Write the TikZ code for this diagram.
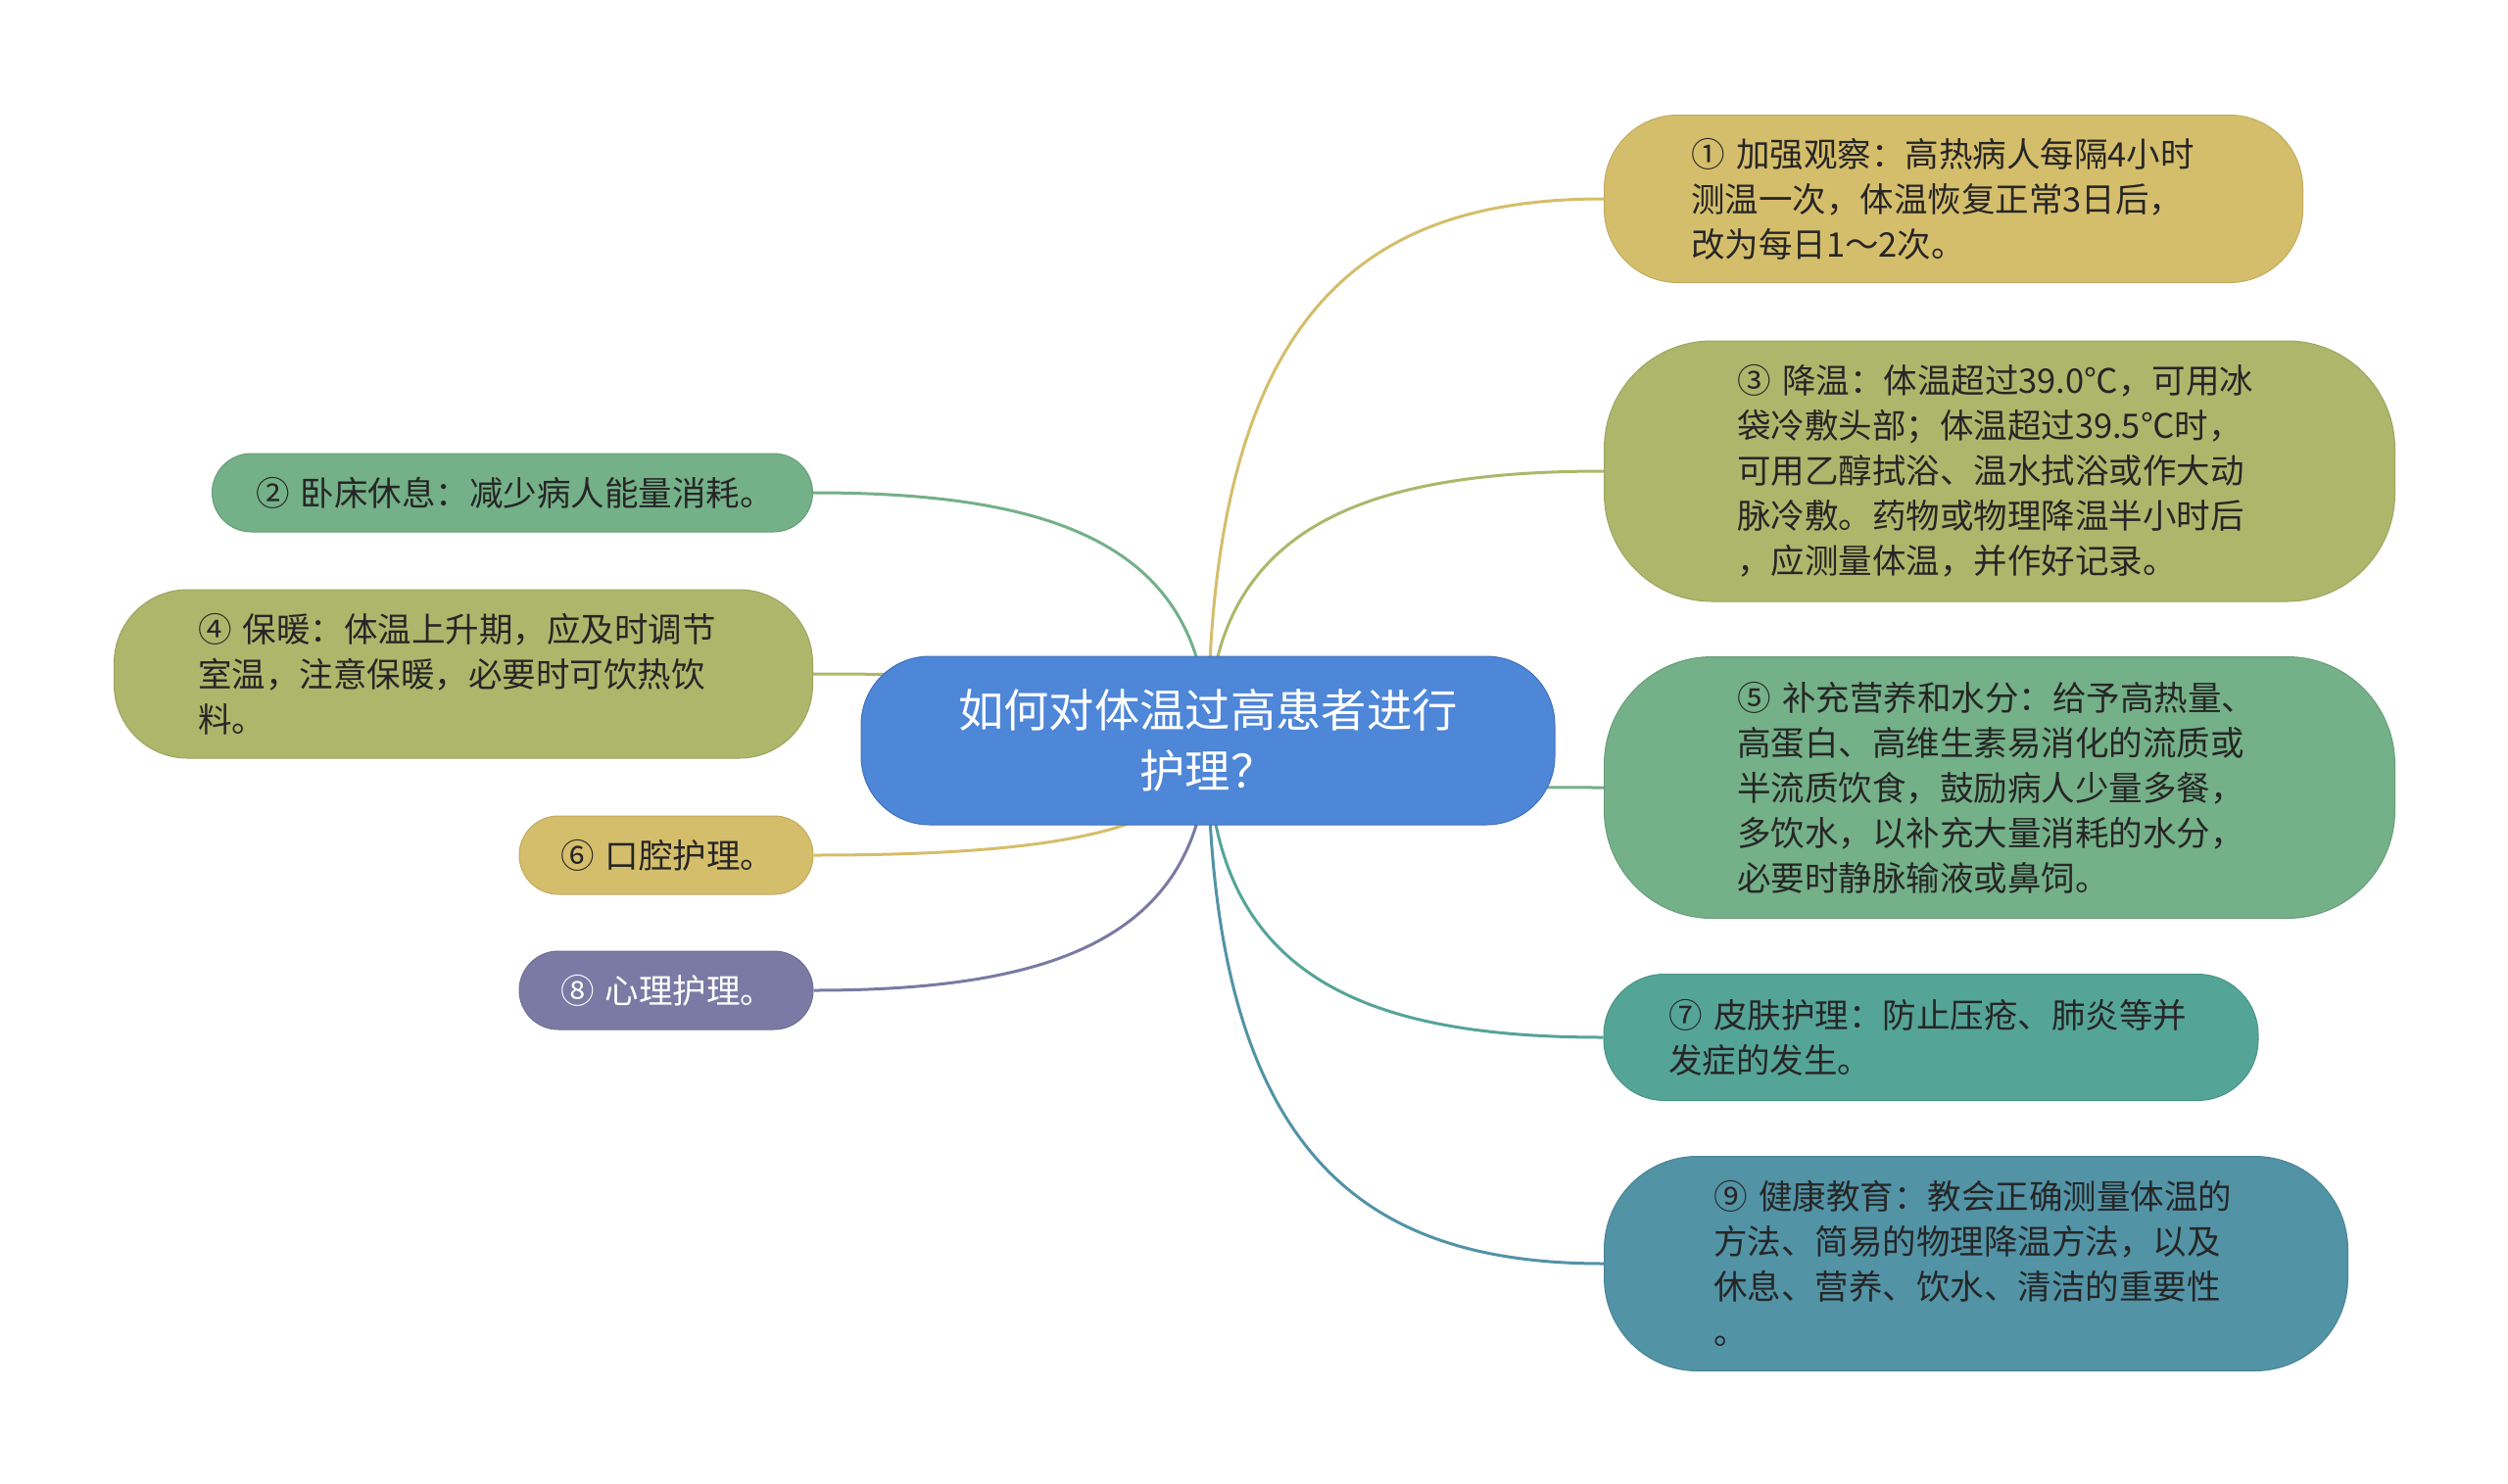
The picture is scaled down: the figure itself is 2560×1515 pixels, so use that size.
\documentclass[tikz,border=0pt]{standalone}
\usepackage{fontspec}
\setmainfont{Noto Sans CJK SC}
\usetikzlibrary{calc,backgrounds}
\definecolor{cgold}{HTML}{D5BE6B}
\definecolor{colive}{HTML}{ADB76B}
\definecolor{cgreen}{HTML}{74B088}
\definecolor{cteal}{HTML}{55A498}
\definecolor{cblueteal}{HTML}{5293A6}
\definecolor{cpurple}{HTML}{7A7AA4}
\definecolor{cblue}{HTML}{4E86D8}
\definecolor{textdark}{HTML}{262626}
\newcommand\linkto[2]{\draw[link,#1] (root.center) .. controls ($(root.center)!0.8!(root.center|-#2)$) and ($(root.center|-#2)!0.4!(#2)$) .. (#2);}
\begin{document}
\begin{tikzpicture}[x=1pt,y=-1pt,
  box/.style={rounded corners=#1, inner sep=0pt, align=left, text=textdark,
    font=\fontsize{34.5}{46}\selectfont, line width=1pt},
  link/.style={line width=3pt},
  ]
\useasboundingbox (0,0) rectangle (2560,1515);

\node[box=70, fill=cblue, draw=cblue!85!black, text=white, align=center,
  font=\fontsize{46.3}{62}\selectfont, minimum width=708, minimum height=172] (root) at (1233,756)
  {如何对体温过高患者进行\\护理？};

\node[box=75, fill=cgold, draw=cgold!90!black, text width=536, minimum width=713, minimum height=171] (b1) at (1994,203)
  {①~加强观察：高热病人每隔4小时\\测温一次，体温恢复正常3日后，\\改为每日1～2次。};
\node[box=110, fill=colive, draw=colive!90!black, text width=536, minimum width=807, minimum height=266] (b3) at (2041,481)
  {③~降温：体温超过39.0℃，可用冰\\袋冷敷头部；体温超过39.5℃时，\\可用乙醇拭浴、温水拭浴或作大动\\脉冷敷。药物或物理降温半小时后\\，应测量体温，并作好记录。};
\node[box=110, fill=cgreen, draw=cgreen!90!black, text width=536, minimum width=807, minimum height=267] (b5) at (2041,804)
  {⑤~补充营养和水分：给予高热量、\\高蛋白、高维生素易消化的流质或\\半流质饮食，鼓励病人少量多餐，\\多饮水，以补充大量消耗的水分，\\必要时静脉输液或鼻饲。};
\node[box=62, fill=cteal, draw=cteal!90!black, text width=536, minimum width=668, minimum height=129] (b7) at (1971,1059)
  {⑦~皮肤护理：防止压疮、肺炎等并\\发症的发生。};
\node[box=95, fill=cblueteal, draw=cblueteal!90!black, text width=536, minimum width=759, minimum height=219] (b9) at (2017,1290)
  {⑨~健康教育：教会正确测量体温的\\方法、简易的物理降温方法，以及\\休息、营养、饮水、清洁的重要性\\。};

\node[box=40, fill=cgreen, draw=cgreen!90!black, text width=524, minimum width=613, minimum height=80] (b2) at (523,503)
  {②~卧床休息：减少病人能量消耗。};
\node[box=75, fill=colive, draw=colive!90!black, text width=542, minimum width=713, minimum height=172] (b4) at (473,688)
  {④~保暖：体温上升期，应及时调节\\室温，注意保暖，必要时可饮热饮\\料。};
\node[box=40, fill=cgold, draw=cgold!90!black, text width=216, minimum width=300, minimum height=80] (b6) at (680,873)
  {⑥~口腔护理。};
\node[box=40, fill=cpurple, draw=cpurple!90!black, text=white, text width=216, minimum width=300, minimum height=80] (b8) at (680,1011)
  {⑧~心理护理。};

\begin{scope}[on background layer]
\fill[white] (0,0) rectangle (2560,1515);
\linkto{cgold}{b1.west}
\linkto{colive}{b3.west}
\linkto{cgreen}{b5.west}
\linkto{cteal}{b7.west}
\linkto{cblueteal}{b9.west}
\linkto{cgreen}{b2.east}
\linkto{colive}{b4.east}
\linkto{cgold}{b6.east}
\linkto{cpurple}{b8.east}
\end{scope}
\end{tikzpicture}
\end{document}
